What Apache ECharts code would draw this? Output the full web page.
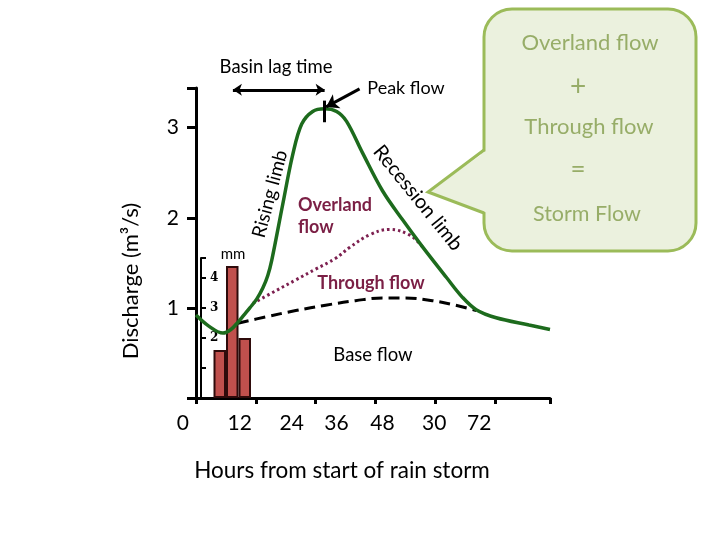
<!DOCTYPE html>
<html><head><meta charset="utf-8">
<script src="https://cdn.jsdelivr.net/npm/echarts@6/dist/echarts.min.js"></script>
<style>html,body{margin:0;padding:0;background:#fff}#c{width:720px;height:540px}</style>
</head><body><div id="c"></div>
<script>
// ---- data ----
const hourTickLabels = ['0', '12', '24', '36', '48', '30', '72'];
// where each (irregularly placed) tick label sits on the hours scale of the label axis
const hourLabelAt = [-2.6, 8.8, 19.2, 28.2, 37.4, 47.8, 56.8];
const rainCats = ['0-2.5', '2.5-5', '5-7.5', '7.5-10'];
const rainfall = ['-', 1.6, 4.4, 2.0];
const stormHydrograph = [[0,0.92],[2.5,0.8],[5.4,0.72],[7,0.76],[8.4,0.84],[9.6,0.92],[10.8,1.0],[12.2,1.1],[13.4,1.22],[14.4,1.36],[15.2,1.53],[17.4,2.15],[19.4,2.7],[21.2,3.04],[23.4,3.18],[25.8,3.21],[28.2,3.18],[30.2,3.07],[33.4,2.72],[37.4,2.3],[41.4,1.98],[45.4,1.68],[50.2,1.34],[53.4,1.12],[56.2,0.98],[60.2,0.89],[66.8,0.81],[71,0.76]];
const baseFlow = [[8.4,0.83],[14,0.9],[20,0.97],[26,1.03],[32,1.08],[37.4,1.11],[42,1.11],[47.4,1.08],[52,1.03],[56.2,0.97]];
const throughFlow = [[11.4,1.05],[16,1.19],[20,1.31],[24,1.43],[28,1.55],[30.8,1.67],[34.8,1.81],[38.8,1.87],[42.8,1.81],[45.4,1.68]];
const lagStart = 7.4, peakHour = 25.8;

const FONT = 'Lato, "Liberation Sans", sans-serif';
const chart = echarts.init(document.getElementById('c'));
const blackLine = { color: '#000', width: 3, type: 'solid' };
const intOnly = v => (v === 0 || v % 1 !== 0) ? '' : v;

chart.setOption({
  animation: false,
  grid: [
    { left: 196, right: 170, top: 88, bottom: 142 },
    { left: 158, right: 170, top: 88, bottom: 142 },
    { left: 201, width: 50, top: 258, bottom: 142 }
  ],
  xAxis: [
    { gridIndex: 0, type: 'value', min: 0, max: 71, interval: 12,
      axisLine: { lineStyle: blackLine }, axisTick: { show: true, length: 6, lineStyle: { width: 3, color: '#000' } },
      axisLabel: { show: false }, splitLine: { show: false } },
    { gridIndex: 1, type: 'value', min: -7.6, max: 71,
      axisLine: { show: false }, axisTick: { show: false }, splitLine: { show: false },
      axisLabel: { customValues: hourLabelAt, fontSize: 21, color: '#000', fontFamily: FONT, margin: 15,
        showMinLabel: true, showMaxLabel: true,
        formatter: v => { const i = hourLabelAt.indexOf(v); return i >= 0 ? hourTickLabels[i] : ''; } } },
    { gridIndex: 2, type: 'category', data: rainCats, show: false }
  ],
  yAxis: [
    { gridIndex: 0, type: 'value', min: 0, max: 3.44, interval: 1,
      axisLine: { show: true, lineStyle: blackLine },
      axisTick: { show: true, length: 9, lineStyle: { width: 3, color: '#000' } },
      axisLabel: { fontSize: 21, color: '#000', fontFamily: FONT, margin: 17, formatter: intOnly },
      splitLine: { show: false } },
    { gridIndex: 1, type: 'value', show: false },
    { gridIndex: 2, type: 'value', min: 0, max: 4.67, interval: 1,
      axisLine: { show: true, lineStyle: { color: '#000', width: 2 } },
      axisTick: { show: true, inside: true, length: 5, lineStyle: { width: 2, color: '#000' } },
      axisLabel: { inside: true, fontSize: 12, fontWeight: 'bold', color: '#000', margin: 9, fontFamily: '"DejaVu Serif", serif',
        formatter: v => (v >= 2 && v % 1 === 0) ? v : '' },
      splitLine: { show: false } }
  ],
  series: [
    { type: 'bar', xAxisIndex: 2, yAxisIndex: 2, data: rainfall, barCategoryGap: '0%',
      itemStyle: { color: '#c0504d', borderColor: '#2e0b0b', borderWidth: 2 } },
    { type: 'line', xAxisIndex: 0, yAxisIndex: 0, data: baseFlow, smooth: 0.4, showSymbol: false, z: 3,
      lineStyle: { color: '#000', width: 3, type: [11, 6] } },
    { type: 'line', xAxisIndex: 0, yAxisIndex: 0, data: throughFlow, smooth: 0.4, showSymbol: false, z: 3,
      lineStyle: { color: '#7d2050', width: 3, type: [2.5, 3] } },
    { type: 'line', xAxisIndex: 0, yAxisIndex: 0, data: stormHydrograph, smooth: 0.35, showSymbol: false, clip: false, z: 4,
      lineStyle: { color: '#1d6b1d', width: 3.5 },
      markLine: {
        silent: true, symbol: ['none', 'none'], label: { show: false },
        lineStyle: blackLine,
        data: [
          [{ coord: [lagStart, 3.42], symbol: 'arrow', symbolSize: [9, 9], symbolRotate: 90 },
           { coord: [peakHour, 3.42], symbol: 'arrow', symbolSize: [9, 9] }],
          [{ coord: [lagStart, 3.51] }, { coord: [lagStart, 3.33] }],
          [{ coord: [peakHour, 3.51] }, { coord: [peakHour, 3.34] }],
          [{ coord: [peakHour, 3.3] }, { coord: [peakHour, 3.06] }],
          [{ coord: [32.8, 3.43] }, { coord: [26.1, 3.23], symbol: 'arrow', symbolSize: [12, 12] }]
        ]
      } }
  ],
  graphic: [
    { type: 'text', x: 276, y: 67, style: { text: 'Basin lag time', font: '18.5px ' + FONT, fill: '#000', align: 'center', verticalAlign: 'middle' } },
    { type: 'text', x: 406, y: 88, style: { text: 'Peak flow', font: '18px ' + FONT, fill: '#000', align: 'center', verticalAlign: 'middle' } },
    { type: 'text', x: 270, y: 194, rotation: 75 * Math.PI / 180, style: { text: 'Rising limb', font: '19px ' + FONT, fill: '#000', align: 'center', verticalAlign: 'middle' } },
    { type: 'text', x: 418, y: 198, rotation: -51 * Math.PI / 180, style: { text: 'Recession limb', font: '20px ' + FONT, fill: '#000', align: 'center', verticalAlign: 'middle' } },
    { type: 'text', x: 298, y: 205, style: { text: 'Overland', font: 'bold 18px ' + FONT, fill: '#7b1f45', align: 'left', verticalAlign: 'middle' } },
    { type: 'text', x: 298, y: 227, style: { text: 'flow', font: 'bold 18px ' + FONT, fill: '#7b1f45', align: 'left', verticalAlign: 'middle' } },
    { type: 'text', x: 371, y: 283, style: { text: 'Through flow', font: 'bold 18px ' + FONT, fill: '#7b1f45', align: 'center', verticalAlign: 'middle' } },
    { type: 'text', x: 373, y: 355, style: { text: 'Base flow', font: '18.5px ' + FONT, fill: '#000', align: 'center', verticalAlign: 'middle' } },
    { type: 'text', x: 233, y: 254, style: { text: 'mm', font: '15px ' + FONT, fill: '#000', align: 'center', verticalAlign: 'middle' } },
    { type: 'text', x: 342, y: 471, style: { text: 'Hours from start of rain storm', font: '22.5px ' + FONT, fill: '#000', align: 'center', verticalAlign: 'middle' } },
    { type: 'text', x: 131, y: 281, rotation: Math.PI / 2, style: { text: 'Discharge (m³/s)', font: '22px ' + FONT, fill: '#000', align: 'center', verticalAlign: 'middle' } },
    // callout
    { type: 'rect', shape: { x: 484, y: 9, width: 212, height: 242, r: 28 }, style: { fill: '#ebf1de', stroke: '#9bbb59', lineWidth: 3 }, z: 100 },
    { type: 'polygon', shape: { points: [[488, 150], [428, 192], [488, 213]] }, style: { fill: '#ebf1de' }, z: 101 },
    { type: 'rect', shape: { x: 481, y: 151.5, width: 8, height: 60 }, style: { fill: '#ebf1de' }, z: 101 },
    { type: 'polyline', shape: { points: [[484, 150], [428, 192], [484, 213]] }, style: { stroke: '#9bbb59', lineWidth: 3, fill: null }, z: 102 },
    { type: 'text', x: 590, y: 43, z: 103, style: { text: 'Overland flow', font: '22px ' + FONT, fill: '#97ad68', align: 'center', verticalAlign: 'middle' } },
    { type: 'text', x: 578, y: 87, z: 103, style: { text: '+', font: '28px ' + FONT, fill: '#97ad68', align: 'center', verticalAlign: 'middle' } },
    { type: 'text', x: 589, y: 127, z: 103, style: { text: 'Through flow', font: '22px ' + FONT, fill: '#97ad68', align: 'center', verticalAlign: 'middle' } },
    { type: 'text', x: 578, y: 170, z: 103, style: { text: '=', font: '26px ' + FONT, fill: '#97ad68', align: 'center', verticalAlign: 'middle' } },
    { type: 'text', x: 587, y: 214, z: 103, style: { text: 'Storm Flow', font: '21.5px ' + FONT, fill: '#97ad68', align: 'center', verticalAlign: 'middle' } }
  ]
});
</script></body></html>
